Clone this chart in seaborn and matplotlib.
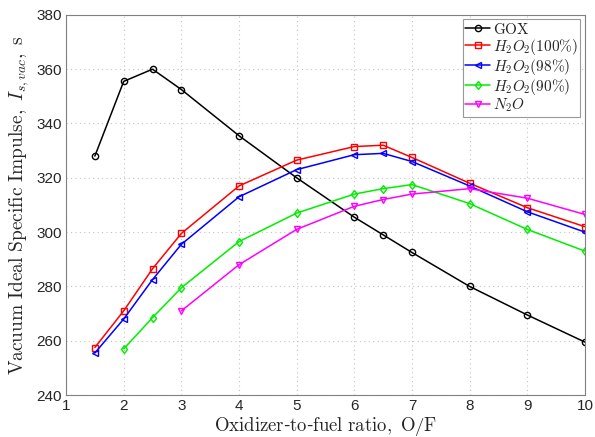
import matplotlib
matplotlib.use("Agg")
import matplotlib.pyplot as plt
import seaborn as sns
import pandas as pd

of_gox = [1.5, 2, 2.5, 3, 4, 5, 6, 6.5, 7, 8, 9, 10]
isp_gox = [328, 355.5, 360, 352.5, 335.5, 320, 305.5, 299, 292.5, 280, 269.5, 259.5]
of_h100 = [1.5, 2, 2.5, 3, 4, 5, 6, 6.5, 7, 8, 9, 10]
isp_h100 = [257.5, 271, 286.5, 299.5, 317, 326.5, 331.5, 332, 327.5, 318, 309, 302]
of_h98 = [1.5, 2, 2.5, 3, 4, 5, 6, 6.5, 7, 8, 9, 10]
isp_h98 = [255.5, 268, 282.5, 295.5, 313, 323, 328.5, 329, 326, 317, 307.5, 300]
of_h90 = [2, 2.5, 3, 4, 5, 6, 6.5, 7, 8, 9, 10]
isp_h90 = [257, 268.5, 279.5, 296.5, 307, 314, 316, 317.5, 310.5, 301, 293]
of_n2o = [3, 4, 5, 6, 6.5, 7, 8, 9, 10]
isp_n2o = [271, 288, 301, 309.5, 312, 314, 316, 312.5, 306.5]

labels = [r"$\mathrm{GOX}$", r"$H_2O_2(100\%)$", r"$H_2O_2(98\%)$", r"$H_2O_2(90\%)$", r"$N_2O$"]
xs = [of_gox, of_h100, of_h98, of_h90, of_n2o]
ys = [isp_gox, isp_h100, isp_h98, isp_h90, isp_n2o]
colors = ["black", "red", "blue", "#00ee00", "magenta"]
markers = ["o", "s", "<", "d", "v"]

sns.set_style("white")
plt.rcParams["mathtext.fontset"] = "cm"
plt.rcParams["font.family"] = ["Liberation Sans", "DejaVu Sans"]

fig = plt.figure(figsize=(5.95, 4.37), dpi=100)
ax = fig.add_axes([0.111, 0.096, 0.872, 0.870])

for x, y, lab, c, m in zip(xs, ys, labels, colors, markers):
    df = pd.DataFrame({"x": x, "y": y})
    sns.lineplot(data=df, x="x", y="y", ax=ax, color=c, marker=m, markersize=4.5,
                 markerfacecolor="none", markeredgecolor=c, markeredgewidth=1,
                 linewidth=1.1, label=lab)

ax.set_xlim(1, 10)
ax.set_ylim(240, 380)
ax.set_xticks(range(1, 11))
ax.set_yticks(range(240, 381, 20))
ax.tick_params(direction="in", length=4, labelsize=11, color="#808080", pad=3)
ax.grid(True, linestyle=(0, (1, 3)), color="#c4c4c4", linewidth=0.8)
for s in ax.spines.values():
    s.set_color("#808080")
    s.set_linewidth(0.8)

ax.set_xlabel(r"$\mathrm{Oxidizer}$-$\mathrm{to}$-$\mathrm{fuel\ ratio,\ O/F}$", fontsize=13.5, labelpad=1)
ax.set_ylabel(r"$\mathrm{Vacuum\ Ideal\ Specific\ Impulse,}\ I_{s,vac},\ \mathrm{s}$", fontsize=14, labelpad=4)

leg = ax.legend(loc="upper right", fontsize=11, frameon=True, fancybox=False,
                edgecolor="#808080", handlelength=1.6, handletextpad=0.2,
                borderpad=0.15, labelspacing=0.0, borderaxespad=0.3)
leg.get_frame().set_linewidth(0.8)

fig.savefig("out.png", dpi=100)
